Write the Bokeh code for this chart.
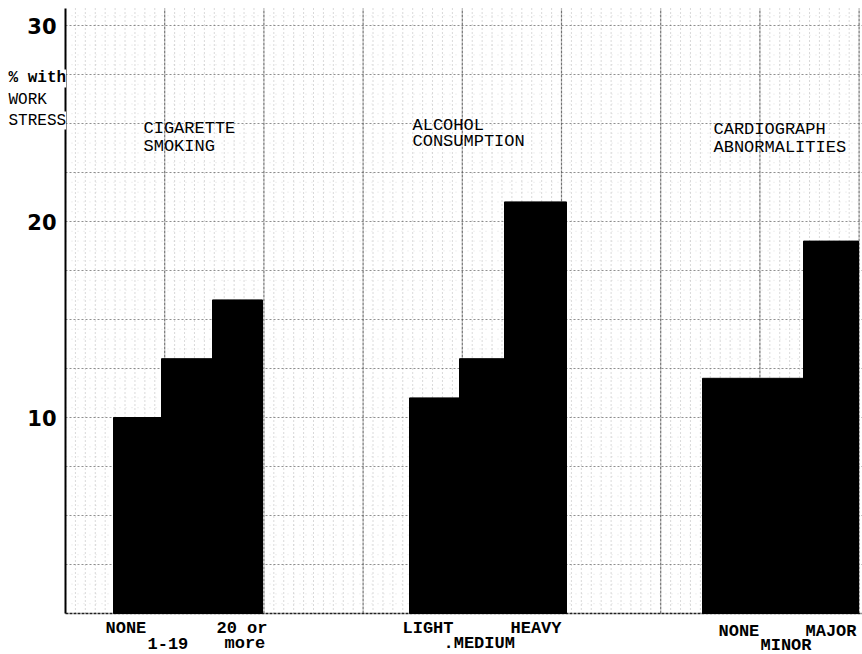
from bokeh.plotting import figure
from bokeh.models import Range1d, FixedTicker, Label, LinearAxis
from bokeh.embed import file_html
from bokeh.resources import INLINE

# ---------------- data ----------------
group_titles = [["CIGARETTE", "SMOKING"], ["ALCOHOL", "CONSUMPTION"], ["CARDIOGRAPH", "ABNORMALITIES"]]
cig_categories = [["NONE"], ["1-19"], ["20 or", "more"]]
cig_values = [10, 13, 16]
alc_categories = [["LIGHT"], [".MEDIUM"], ["HEAVY"]]
alc_values = [11, 13, 21]
ecg_categories = [["NONE"], ["MINOR"], ["MAJOR"]]
ecg_values = [12, 12, 19]
y_ticks = [10, 20, 30]
y_title = ["% with", "WORK", "STRESS"]

# ---------------- layout ----------------
FONT = "Liberation Mono"
W, H = 862, 654
AX_X = 65          # canvas x of the value axis
BASE_Y = 613       # canvas y of the baseline
PX = 19.6          # pixels per percentage point
Y_TOP = (BASE_Y - 8) / PX
X_END = W - AX_X

group_values = [cig_values, alc_values, ecg_values]
group_cats = [cig_categories, alc_categories, ecg_categories]
bar_lefts = [[48, 96, 147], [344, 394, 439], [637, 687, 738]]
bar_rights = [[96, 147, 197], [394, 439, 501], [687, 738, 793]]
title_pos = [(78, 24.74, 23.83), (347, 24.9, 24.08), (648, 24.69, 23.78)]
label_x = [[(40,), (82,), (151, 159)], [(337,), (378,), (445,)], [(653,), (695,), (740,)]]
label_row = [[0, 1, 0], [0, 1, 0], [0, 1, 0]]
row_offsets = [[-15, -30], [-15, -30], [-18, -32]]

p = figure(width=W, height=H, output_backend="svg", toolbar_location=None,
           x_range=Range1d(-AX_X, X_END), y_range=Range1d(-(H - BASE_Y) / PX, BASE_Y / PX),
           x_axis_type=None, y_axis_type=None,
           min_border_left=0, min_border_right=0, min_border_top=0, min_border_bottom=0)
p.outline_line_color = None
p.background_fill_color = "white"
p.border_fill_color = "white"
p.grid.visible = False

# graph-paper grid (drawn only inside the chart area)
xmaj = [i * 99.2 for i in range(9)]
xmin = [i * 9.92 for i in range(81) if i % 10]
ymaj = [i * 2.5 for i in range(1, 13)]
ymin = [i * 0.5 for i in range(1, 62) if i % 5]
p.segment(x0=xmin, y0=0, x1=xmin, y1=Y_TOP, line_color="#777777", line_alpha=0.55,
          line_dash="1 3", line_width=1)
p.segment(x0=0, y0=ymin, x1=X_END, y1=ymin, line_color="#999999", line_alpha=0.3,
          line_dash="1 5", line_width=1)
p.segment(x0=xmaj[1:], y0=0, x1=xmaj[1:], y1=Y_TOP, line_color="#444444", line_alpha=0.75,
          line_dash="3 1", line_width=1.2)
p.segment(x0=0, y0=ymaj, x1=X_END, y1=ymaj, line_color="#555555", line_alpha=0.65,
          line_dash="2 2", line_width=1)
# baseline
p.segment(x0=[0], y0=[0], x1=[X_END], y1=[0], line_color="#222222", line_width=1.5, line_dash="3 1")

# value axis
ax = LinearAxis(fixed_location=0, bounds=(0, Y_TOP), ticker=FixedTicker(ticks=y_ticks))
ax.major_tick_line_color = None
ax.minor_tick_line_color = None
ax.axis_line_color = "black"
ax.axis_line_width = 2
ax.major_label_text_font = "DejaVu Sans"
ax.major_label_text_font_style = "bold"
ax.major_label_text_font_size = "21px"
ax.major_label_text_color = "black"
ax.major_label_standoff = 3
p.add_layout(ax, "left")

# bars
lefts, rights, tops = [], [], []
for g in range(3):
    for i, v in enumerate(group_values[g]):
        lefts.append(bar_lefts[g][i])
        rights.append(bar_rights[g][i])
        tops.append(v)
p.quad(left=lefts, right=rights, bottom=0, top=tops, fill_color="black", line_color="black")

# group titles
for g, lines in enumerate(group_titles):
    x, y1, y2 = title_pos[g]
    for line, y in zip(lines, (y1, y2)):
        p.add_layout(Label(x=x, y=y, text=line, text_font=FONT, text_font_size="17px",
                           text_baseline="middle", text_align="left", text_color="black"))

# category labels under bars
for g in range(3):
    for i, lines in enumerate(group_cats[g]):
        row = label_row[g][i]
        for k, line in enumerate(lines):
            p.add_layout(Label(x=label_x[g][i][k], y=0, y_offset=row_offsets[g][row + k],
                               text=line, text_font=FONT, text_font_size="17px",
                               text_font_style="bold", text_baseline="middle",
                               text_align="left", text_color="black"))

# y title
for k, (line, y) in enumerate(zip(y_title, (27.3, 26.22, 25.15))):
    p.add_layout(Label(x=-57, y=y, text=line, text_font=FONT, text_font_size="16px",
                       text_font_style="bold" if k == 0 else "normal",
                       text_baseline="middle", text_align="left", text_color="black",
                       background_fill_color="white"))

open("out.html", "w").write(file_html(p, INLINE))
